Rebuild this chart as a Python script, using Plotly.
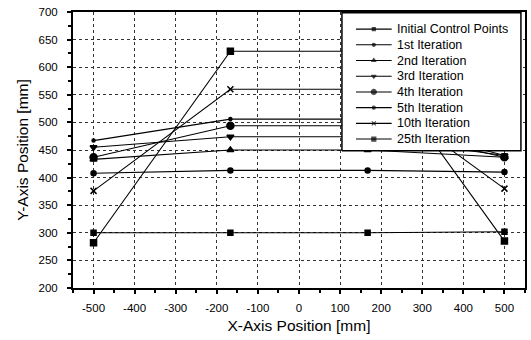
import plotly.graph_objects as go

# Control point x positions [mm]
x_pos = [-500, -167, 167, 500]

series_names = [
    "Initial Control Points",
    "1st Iteration",
    "2nd Iteration",
    "3rd Iteration",
    "4th Iteration",
    "5th Iteration",
    "10th Iteration",
    "25th Iteration",
]

# Y positions [mm] of the control points for each iteration
initial_pts = [300, 300, 300, 302]
iter_1 = [408, 413, 413, 410]
iter_2 = [433, 450, 450, 437]
iter_3 = [455, 474, 474, 440]
iter_4 = [437, 494, 494, 437]
iter_5 = [467, 506, 506, 440]
iter_10 = [376, 560, 560, 380]
iter_25 = [282, 629, 629, 285]

series_values = [initial_pts, iter_1, iter_2, iter_3, iter_4, iter_5, iter_10, iter_25]

marker_symbols = ["square", "circle", "triangle-up", "triangle-down",
                  "circle", "circle", "x-thin-open", "square"]
marker_sizes = [5, 5, 6, 6, 7, 3, 6, 6]

x_ticks = list(range(-500, 501, 100))
x_tick_labels = [str(v) for v in x_ticks]
y_ticks = list(range(200, 701, 50))
y_tick_labels = [str(v) for v in y_ticks]

FONT = "Liberation Sans, Arial, sans-serif"

fig = go.Figure()
for name, vals, sym, sz in zip(series_names, series_values, marker_symbols, marker_sizes):
    fig.add_trace(go.Scatter(
        x=x_pos, y=vals, name=name, mode="lines+markers", showlegend=False,
        line=dict(color="black", width=1.1),
        marker=dict(symbol=sym, size=sz, color="black",
                    line=dict(color="black", width=1.5)),
    ))

# Compact legend box drawn on an overlay axis spanning the plot area (0..1)
box_x0, box_x1, box_y0, box_y1 = 0.595, 0.991, 0.497, 0.997
fig.add_trace(go.Scatter(
    x=[box_x0, box_x1, box_x1, box_x0, box_x0],
    y=[box_y0, box_y0, box_y1, box_y1, box_y0],
    mode="lines", fill="toself", fillcolor="white",
    line=dict(color="black", width=1.5),
    xaxis="x2", yaxis="y2", showlegend=False, hoverinfo="skip",
))
row_top, row_step = 0.938, 0.0569
seg_x0, seg_x1, text_x = 0.626, 0.705, 0.712
for i, (name, sym, sz) in enumerate(zip(series_names, marker_symbols, marker_sizes)):
    ry = row_top - i * row_step
    fig.add_trace(go.Scatter(
        x=[seg_x0, (seg_x0 + seg_x1) / 2, seg_x1], y=[ry, ry, ry],
        mode="lines+markers", xaxis="x2", yaxis="y2", showlegend=False,
        hoverinfo="skip",
        line=dict(color="black", width=1.1),
        marker=dict(symbol=sym, size=[0, max(sz - 2, 3), 0], color="black",
                    line=dict(color="black", width=1.2)),
    ))
    fig.add_annotation(
        x=text_x, y=ry, xref="x2", yref="y2", text=name, showarrow=False,
        xanchor="left", yanchor="middle",
        font=dict(family=FONT, size=12.5, color="black"),
    )

axis_common = dict(
    showline=True, linecolor="black", linewidth=2, mirror=True,
    ticks="outside", ticklen=4, tickwidth=1.5, tickcolor="black",
    showgrid=True, gridcolor="#333", gridwidth=1, griddash="dot",
    zeroline=False,
    tickfont=dict(family=FONT, size=11.5, color="black"),
    title_font=dict(family=FONT, size=15.5, color="black"),
)

fig.update_xaxes(
    range=[-550, 550], tickvals=x_ticks, ticktext=x_tick_labels,
    title_text="X-Axis Position [mm]", title_standoff=7,
    ticklabelstandoff=4,
    minor=dict(ticks="outside", ticklen=3, tickwidth=1.5, tickcolor="black",
               dtick=50, tick0=0, showgrid=False),
    **axis_common,
)
fig.update_yaxes(
    range=[200, 700], tickvals=y_ticks, ticktext=y_tick_labels,
    title_text="Y-Axis Position [mm]", title_standoff=6,
    ticklabelstandoff=7,
    minor=dict(ticks="outside", ticklen=3, tickwidth=1.5, tickcolor="black",
               dtick=25, tick0=0, showgrid=False),
    **axis_common,
)

fig.update_layout(
    width=531, height=340,
    margin=dict(l=73, r=4, t=12, b=52),
    paper_bgcolor="white", plot_bgcolor="white",
    font=dict(family=FONT, color="black"),
    showlegend=False,
    xaxis2=dict(overlaying="x", range=[0, 1], visible=False, fixedrange=True),
    yaxis2=dict(overlaying="y", range=[0, 1], visible=False, fixedrange=True),
)

fig.write_html("out.html")
